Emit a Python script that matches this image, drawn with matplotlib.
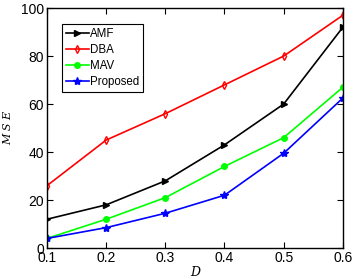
import matplotlib
matplotlib.use('Agg')
import matplotlib.pyplot as plt

plt.rcParams['font.family'] = ['Liberation Sans', 'DejaVu Sans']

d = [0.1, 0.2, 0.3, 0.4, 0.5, 0.6]
amf = [12, 18, 28, 43, 60, 92]
dba = [26, 45, 56, 68, 80, 97]
mav = [4, 12, 21, 34, 46, 67]
proposed = [4, 8.5, 14.5, 22, 39.5, 62.5]

fig = plt.figure(figsize=(3.56, 2.79), dpi=100)
ax = fig.add_axes([0.132, 0.111, 0.831, 0.860])

ax.plot(d, amf, color='black', marker='>', markersize=5, lw=1.2, label='AMF')
ax.plot(d, dba, color='red', marker='d', markersize=4, lw=1.2,
        markerfacecolor='none', label='DBA')
ax.plot(d, mav, color='#00ff00', marker='o', markersize=4, lw=1.2, label='MAV')
ax.plot(d, proposed, color='blue', marker='*', markersize=6, lw=1.2, label='Proposed')

ax.set_xlim(0.1, 0.6)
ax.set_ylim(0, 100)
ax.set_xticks(d)
ax.set_xticklabels(['0.1', '0.2', '0.3', '0.4', '0.5', '0.6'])
ax.set_yticks([0, 20, 40, 60, 80, 100])
ax.tick_params(direction='in', top=True, right=True, labelsize=10, length=4, pad=2)
for s in ax.spines.values():
    s.set_linewidth(1.0)

ax.set_xlabel('D', fontsize=9, style='italic', family='DejaVu Serif', labelpad=1)
ax.set_ylabel('M S E', fontsize=8, style='italic', family='DejaVu Serif', labelpad=6)

leg = ax.legend(loc='upper left', bbox_to_anchor=(0.05, 0.935), fontsize=8.3,
                frameon=True, fancybox=False, edgecolor='black', framealpha=1,
                handlelength=2.0, handletextpad=0.1, borderpad=0.35,
                labelspacing=0.35, borderaxespad=0)
leg.get_frame().set_linewidth(0.8)

fig.savefig('out.png', dpi=100)
